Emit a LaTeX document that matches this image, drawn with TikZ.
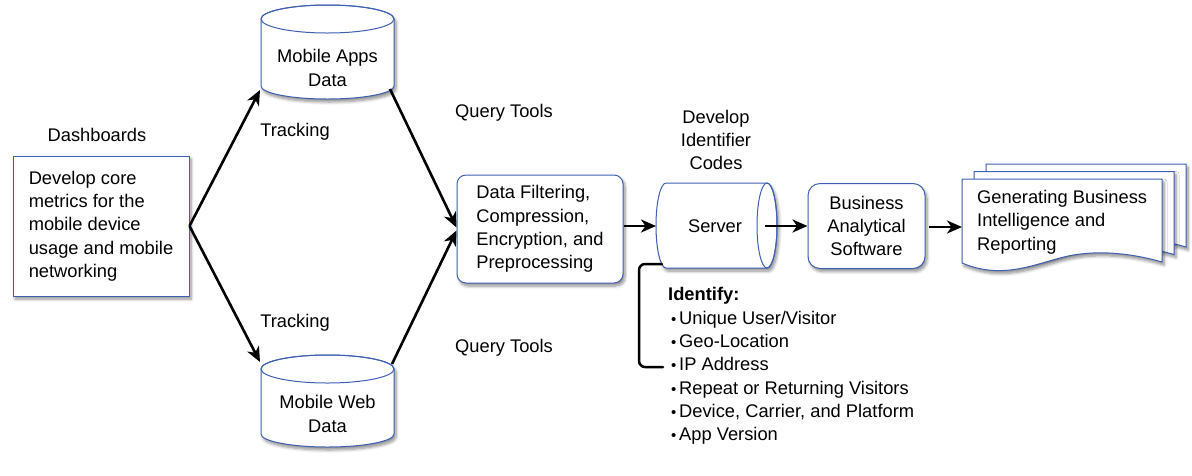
\documentclass[tikz,border=0pt]{standalone}
\usepackage{fontspec}
\setmainfont{Liberation Sans}
\usetikzlibrary{shadows,shadows.blur,arrows.meta,calc}
\definecolor{bord}{RGB}{62,96,178}
\begin{document}
\begin{tikzpicture}[x=1pt,y=-1pt,
  txt/.style={font=\fontsize{18.3}{23.3}\selectfont, inner sep=0pt},
  shad/.style={blur shadow={shadow xshift=2pt,shadow yshift=-3pt,shadow blur steps=6,shadow blur radius=3pt,shadow opacity=45}},
  boxst/.style={draw=bord, line width=1pt, fill=white, shad, txt},
  arr/.style={line width=2.6pt, -{Stealth[length=15pt,width=13pt,inset=4.5pt]}},
  bk/.style={line width=2.5pt, line cap=round},
  cyl/.style={draw=bord, line width=1pt, fill=white},
  rim/.style={draw=bord, line width=1pt},
  bul/.style={}]
\useasboundingbox (0,0) rectangle (1192,475);

% Dashboards
\node[txt] (dashlbl) at (97,135) {Dashboards};
\node[boxst, minimum width=176pt, minimum height=140pt, align=left] (dash) at (101,226)
  {Develop core\\metrics for the\\mobile device\\usage and mobile\\networking};

% Mobile Apps Data cylinder
\path[cyl, shad] (261,19) -- (261,86) arc[start angle=180,end angle=360,x radius=66.5pt,y radius=13pt]
  -- (394,19) arc[start angle=0,end angle=180,x radius=66.5pt,y radius=14pt] -- cycle;
\draw[rim] (327.5,19) ellipse [x radius=66.5pt, y radius=14pt];
\node[txt, align=center] (apps) at (327.5,68) {Mobile Apps\\Data};
\coordinate (appsin) at (260,90);
\coordinate (appsout) at (390,89);

% Mobile Web Data cylinder
\path[cyl, shad] (261,369) -- (261,434) arc[start angle=180,end angle=360,x radius=66.5pt,y radius=13pt]
  -- (394,369) arc[start angle=0,end angle=180,x radius=66.5pt,y radius=14pt] -- cycle;
\draw[rim] (327.5,369) ellipse [x radius=66.5pt, y radius=14pt];
\node[txt, align=center] (web) at (327.5,414) {Mobile Web\\Data};
\coordinate (webin) at (260,362);
\coordinate (webout) at (392,364);

% labels
\node[txt] (track1) at (295,132) {Tracking};
\node[txt] (track2) at (295,323) {Tracking};
\node[txt] (query1) at (504,113) {Query Tools};
\node[txt] (query2) at (504,348) {Query Tools};

% Data filtering box
\node[boxst, rounded corners=9pt, minimum width=166pt, minimum height=108pt, align=left] (filt) at (540,229)
  {Data Filtering,\\Compression,\\Encryption, and\\Preprocessing};

% Server horizontal cylinder
\path[cyl, shad] (666,183) -- (767,183) arc[start angle=90,end angle=-90,x radius=10pt,y radius=42.5pt]
  -- (666,268) arc[start angle=270,end angle=90,x radius=10pt,y radius=42.5pt] -- cycle;
\draw[rim] (767,225.5) ellipse [x radius=10pt, y radius=42.5pt];
\node[txt] (srv) at (715,226) {Server};
\coordinate (srvin) at (656,226);
\coordinate (srvout) at (765,226);
\node[txt, align=center] (dev) at (716,140) {Develop\\Identifier\\Codes};

% bracket and identify list
\coordinate (brA) at (662,264);
\coordinate (brB) at (663,367);
\draw[bk, rounded corners=6pt] (brA) -- (639,264) -- (639,367) -- (brB);
\node[txt, align=left, anchor=west] (ident) at (668,366)
  {\textbf{Identify:}\\
   \makebox[11pt][c]{\fontsize{15}{15}\selectfont •}Unique User/Visitor\\
   \makebox[11pt][c]{\fontsize{15}{15}\selectfont •}Geo-Location\\
   \makebox[11pt][c]{\fontsize{15}{15}\selectfont •}IP Address\\
   \makebox[11pt][c]{\fontsize{15}{15}\selectfont •}Repeat or Returning Visitors\\
   \makebox[11pt][c]{\fontsize{15}{15}\selectfont •}Device, Carrier, and Platform\\
   \makebox[11pt][c]{\fontsize{15}{15}\selectfont •}App Version};

% Business Analytical Software
\node[boxst, rounded corners=12pt, minimum width=117pt, minimum height=85pt, align=center] (bas) at (866.5,226)
  {Business\\Analytical\\Software};

% Document stack
\foreach \dx/\dy in {24/-15, 12/-7.5, 0/0} {
  \begin{scope}[shift={(\dx,\dy)}]
    \path[cyl, shad] (962,179) -- (1162,179) -- (1162,262)
      .. controls (1120,250) and (1085,251) .. (1060,258)
      .. controls (1030,266) and (1000,279) .. (962,263) -- cycle;
  \end{scope}
}
\node[txt, align=left, anchor=west] (rep) at (977,222) {Generating Business\\Intelligence and\\Reporting};
\coordinate (docin) at (962,227);

% arrows
\draw[arr] (dash.east) -- (appsin);
\draw[arr] (dash.east) -- (webin);
\draw[arr] (appsout) -- ([yshift=1.5pt]filt.west);
\draw[arr] (webout) -- ([yshift=-1.5pt]filt.west);
\draw[arr] (filt.east |- srvin) -- (srvin);
\draw[arr] (srvout) -- (bas.west |- srvout);
\draw[arr] ([xshift=3pt]bas.east |- docin) -- (docin);
\end{tikzpicture}
\end{document}
